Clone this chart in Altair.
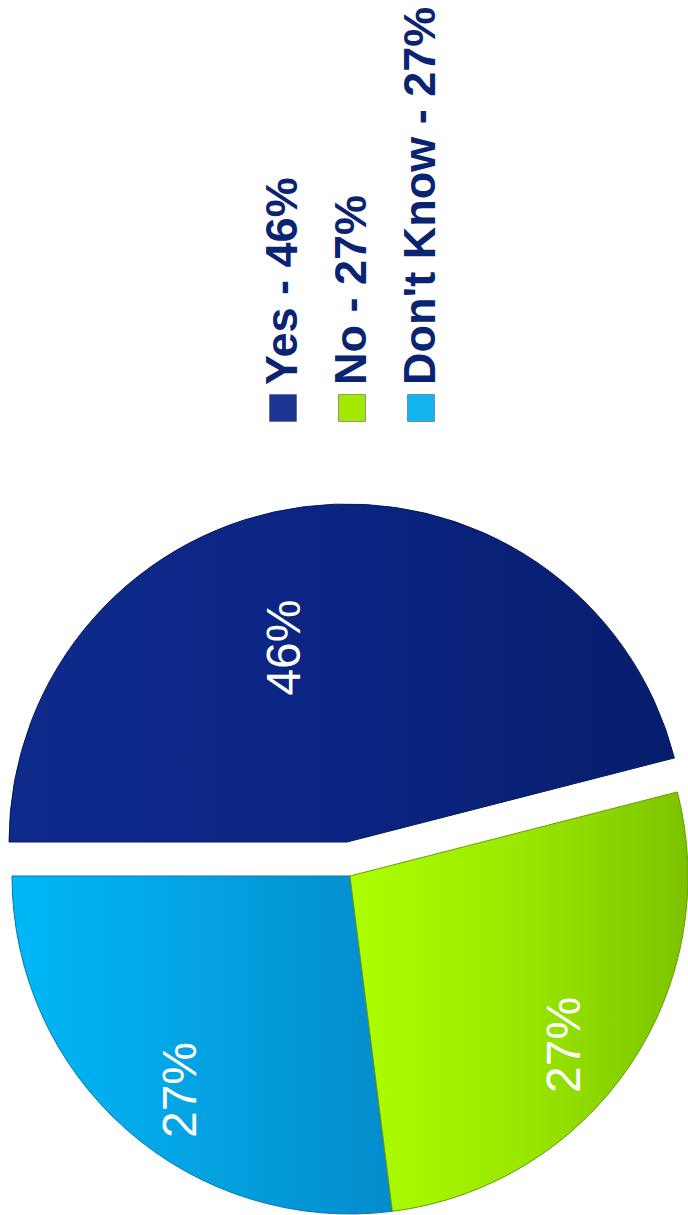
import math
import altair as alt
import pandas as pd

# ---- data ----
categories = ["Yes", "No", "Don't Know"]
values = [46, 27, 27]
order = [0, 1, 2]

# ---- styles ----
slice_grad = {
    "Yes": ["#0e2b8c", "#0a2482", "#071d6c"],
    "No": ["#adff00", "#9ae800", "#7cc300"],
    "Don't Know": ["#00b8f6", "#04a2e2", "#048ccc"],
}
slice_stroke = {"Yes": "#06195a", "No": "#6a9c00", "Don't Know": "#0478b0"}
square_colors = ["#1a3592", "#a4e800", "#12b4ee"]
legend_text_color = "#0b2472"
FONT = "Liberation Sans"

df = pd.DataFrame({"category": categories, "value": values, "order": order})

theta_scale = alt.Scale(domain=[0, 100], range=[-math.pi / 2, 3 * math.pi / 2])

base = alt.Chart(df).transform_window(
    end="sum(value)", sort=[alt.SortField("order")]
).transform_calculate(
    start="datum.end - datum.value",
    mid="datum.end - datum.value / 2",
    pct="datum.value + '%'",
    legend_label="datum.category + ' - ' + datum.value + '%'",
)

CX, CY, R = 350, 876, 338


def grad(cat):
    c = slice_grad[cat]
    return alt.LinearGradient(
        gradient="linear",
        stops=[
            alt.GradientStop(color=c[0], offset=0),
            alt.GradientStop(color=c[1], offset=0.5),
            alt.GradientStop(color=c[2], offset=1),
        ],
        x1=0, x2=1, y1=0, y2=0,
    )


def slice_layer(cat, x_off=0, y_off=0):
    return base.transform_filter(alt.datum.category == cat).mark_arc(
        fill=grad(cat), stroke=slice_stroke[cat], strokeWidth=1,
        radius=R, xOffset=x_off, yOffset=y_off,
    ).encode(
        theta=alt.Theta("start:Q", scale=theta_scale, stack=False),
        theta2="end:Q",
        x=alt.value(CX),
        y=alt.value(CY),
    )


def label_layer(cat, r, x_off=0, y_off=0, dx=0, dy=0):
    return base.transform_filter(alt.datum.category == cat).mark_text(
        angle=270, font=FONT, fontSize=48, color="white",
        align="center", baseline="middle", radius=r,
        xOffset=x_off, yOffset=y_off, dx=dx, dy=dy,
    ).encode(
        theta=alt.Theta("mid:Q", scale=theta_scale, stack=False),
        text="pct:N",
        x=alt.value(CX),
        y=alt.value(CY),
    )


legend_x = alt.X("category:N", scale=alt.Scale(domain=categories, range=[283, 421], padding=0), axis=None)

legend_squares = base.mark_square(size=729, opacity=1, stroke="#3a4a6a", strokeWidth=0.5).encode(
    x=legend_x,
    y=alt.value(408),
    color=alt.Color("category:N", scale=alt.Scale(domain=categories, range=square_colors), legend=None),
)

legend_text = base.mark_text(
    angle=270, align="left", baseline="middle", font=FONT, fontSize=45,
    fontWeight="bold", color=legend_text_color,
).encode(
    x=legend_x,
    y=alt.value(385),
    text="legend_label:N",
)

chart = alt.layer(
    slice_layer("Don't Know"),
    slice_layer("No"),
    slice_layer("Yes", x_off=-3, y_off=-34),
    label_layer("Yes", 196, x_off=-3, y_off=-34, dy=-36),
    label_layer("No", 272, dx=-16, dy=-9),
    label_layer("Don't Know", 272, dx=-10, dy=12),
    legend_squares,
    legend_text,
).properties(
    width=688, height=1215, autosize=alt.AutoSizeParams(type="none"), padding=0,
    background="white",
).configure_view(strokeWidth=0)

chart.save("out.html", embed_options={"renderer": "svg", "actions": False})
